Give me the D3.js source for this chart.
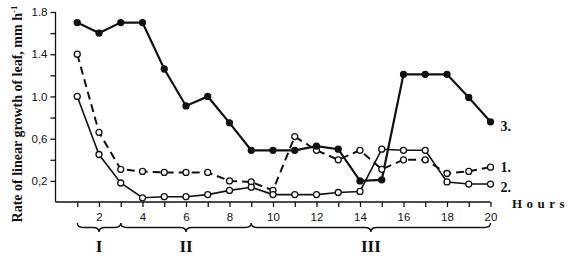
<!DOCTYPE html>
<html lang="en">
<head>
<meta charset="utf-8">
<title>Leaf growth rate</title>
<script src="https://cdn.jsdelivr.net/npm/d3@7"></script>
<style>
  body { margin: 0; background: #fff; }
  .axis path, .axis line { stroke: #111; stroke-width: 1.3; }
  .axis text { font-family: "Liberation Sans Narrow", "Liberation Sans", sans-serif; font-size: 11.5px; fill: #111; }
</style>
</head>
<body>
<script>
// hours and growth rate (mm h-1) for the three treatments
var hours = [1,2,3,4,5,6,7,8,9,10,11,12,13,14,15,16,17,18,19,20];
var series1 = [1.40,0.66,0.31,0.29,0.28,0.28,0.28,0.20,0.19,0.11,0.62,0.49,0.40,0.49,0.31,0.40,0.40,0.27,0.29,0.33];
var series2 = [1.00,0.45,0.18,0.04,0.05,0.05,0.07,0.11,0.14,0.07,0.07,0.07,0.09,0.10,0.50,0.49,0.49,0.19,0.17,0.17];
var series3 = [1.70,1.60,1.70,1.70,1.26,0.91,1.00,0.75,0.49,0.49,0.49,0.53,0.50,0.20,0.21,1.21,1.21,1.21,0.99,0.76];
var yTicks = [0.2,0.4,0.6,0.8,1.0,1.2,1.4,1.6,1.8];
var yTickLabels = {"0.2":"0,2","0.6":"0,6","1":"1.0","1.4":"1.4","1.8":"1.8"};
var phases = [[1,3,"I"],[3,9,"II"],[9,20,"III"]];

var w = 576, h = 262;

var x = d3.scaleLinear().domain([0, 20]).range([55.5, 490.5]);
var y = d3.scaleLinear().domain([0, 1.8]).range([202, 12]);

var svg = d3.select("body").append("svg")
    .attr("width", w)
    .attr("height", h);

// axes
svg.append("g")
    .attr("class", "axis")
    .attr("transform", "translate(" + x(0) + ",0)")
    .call(d3.axisLeft(y).tickValues(yTicks).tickSize(5).tickSizeOuter(0)
        .tickFormat(function (d) { return yTickLabels[String(+d.toFixed(1))] || ""; }))
    .call(function (g) { g.select(".domain").attr("d", "M0," + y(0) + "V" + y(1.8)); });

svg.append("g")
    .attr("class", "axis")
    .attr("transform", "translate(0," + y(0) + ")")
    .call(d3.axisBottom(x).tickValues(hours).tickSize(5).tickSizeOuter(0)
        .tickFormat(function (d) { return d % 2 === 0 ? d : ""; }))
    .call(function (g) {
        g.select(".domain").attr("d", "M" + x(0) + ",0H" + x(20));
        g.selectAll("text").attr("dy", "0.95em");
    });

// axis titles
svg.append("text")
    .attr("transform", "translate(22,114) rotate(-90)")
    .attr("text-anchor", "middle")
    .attr("font-family", "Liberation Serif, serif")
    .attr("font-size", "14px")
    .attr("font-weight", "bold")
    .attr("fill", "#111")
    .text("Rate of linear growth of leaf, mm h")
    .append("tspan")
    .attr("dy", "-5")
    .attr("font-size", "9px")
    .text("-1");

svg.append("text")
    .attr("x", 512)
    .attr("y", 208)
    .attr("font-family", "Liberation Serif, serif")
    .attr("font-size", "13px")
    .attr("font-weight", "bold")
    .attr("letter-spacing", "4.5px")
    .attr("fill", "#111")
    .text("Hours");

// lines
var line = d3.line()
    .x(function (d, i) { return x(hours[i]); })
    .y(function (d) { return y(d); });

var lines = [
    {values: series1, dash: "8,5", width: 2, fill: "#fff", label: "1."},
    {values: series2, dash: null, width: 1.6, fill: "#fff", label: "2."},
    {values: series3, dash: null, width: 2.2, fill: "#111", label: "3."}
];
var labelDy = {"1.": 0, "2.": 3, "3.": 4};

lines.forEach(function (s) {
    svg.append("path")
        .datum(s.values)
        .attr("d", line)
        .attr("fill", "none")
        .attr("stroke", "#111")
        .attr("stroke-width", s.width)
        .attr("stroke-dasharray", s.dash);
});

lines.forEach(function (s) {
    svg.selectAll(null)
        .data(s.values)
        .enter()
        .append("circle")
        .attr("cx", function (d, i) { return x(hours[i]); })
        .attr("cy", function (d) { return y(d); })
        .attr("r", 3)
        .attr("fill", s.fill)
        .attr("stroke", "#111")
        .attr("stroke-width", 1.3);

    svg.append("text")
        .attr("x", x(20) + 10)
        .attr("y", y(s.values[s.values.length - 1]) + 5 + labelDy[s.label])
        .attr("font-family", "Liberation Serif, serif")
        .attr("font-size", "14px")
        .attr("font-weight", "bold")
        .attr("fill", "#111")
        .text(s.label);
});

// phase braces
var braceTop = 223, braceH = 9, r = 6;
phases.forEach(function (p) {
    var x0 = x(p[0]), x1 = x(p[1]), m = (x0 + x1) / 2, ym = braceTop + braceH / 2, yb = braceTop + braceH;
    var d = "M" + x0 + "," + braceTop +
        "Q" + x0 + "," + ym + " " + (x0 + r) + "," + ym +
        "L" + (m - r) + "," + ym +
        "Q" + m + "," + ym + " " + m + "," + yb +
        "Q" + m + "," + ym + " " + (m + r) + "," + ym +
        "L" + (x1 - r) + "," + ym +
        "Q" + x1 + "," + ym + " " + x1 + "," + braceTop;
    svg.append("path")
        .attr("d", d)
        .attr("fill", "none")
        .attr("stroke", "#111")
        .attr("stroke-width", 1.4);
    svg.append("text")
        .attr("x", m)
        .attr("y", 252)
        .attr("text-anchor", "middle")
        .attr("font-family", "Liberation Serif, serif")
        .attr("font-size", "17px")
        .attr("font-weight", "bold")
        .attr("fill", "#111")
        .text(p[2]);
});
</script>
</body>
</html>
